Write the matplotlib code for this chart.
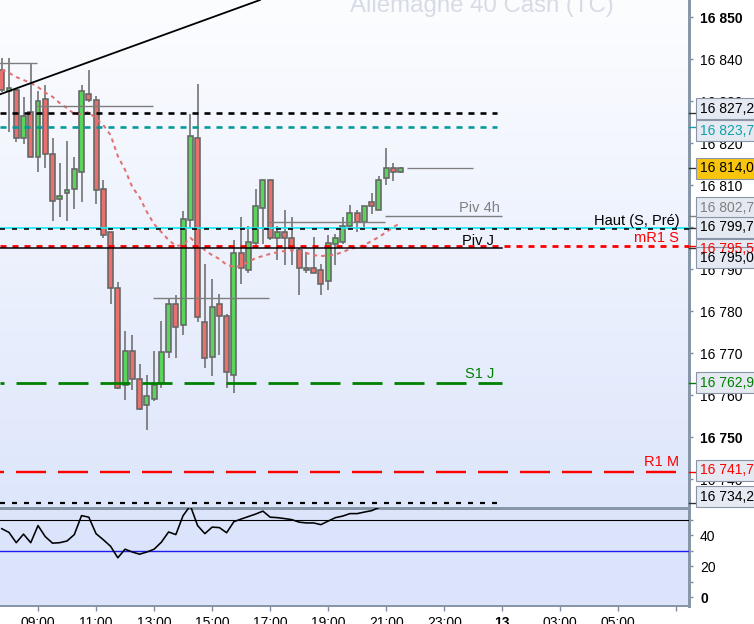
import numpy as np
import matplotlib
matplotlib.use("Agg")
import matplotlib.pyplot as plt
import matplotlib.transforms as mtransforms
from matplotlib.patches import Rectangle
from matplotlib.colors import LinearSegmentedColormap

plt.rcParams['font.family'] = ['Liberation Sans', 'DejaVu Sans']
plt.rcParams['lines.scale_dashes'] = False

# 15 min candles, index 0 = 07:45 (12th), last = 21:30
opens = [16837.4, 16832.5, 16832.6, 16821.1, 16827.3, 16816.6, 16830.4, 16817.5, 16806.6, 16808.0,
         16809.0, 16813.0, 16831.7, 16830.2, 16809.0, 16798.7, 16785.4, 16762.4, 16770.5, 16763.8,
         16757.6, 16759.0, 16762.8, 16770.2, 16781.6, 16776.6, 16801.7, 16821.1, 16777.5, 16769.0,
         16781.6, 16778.7, 16764.8, 16793.7, 16789.8, 16796.1, 16804.6, 16811.1, 16797.3, 16798.9,
         16797.3, 16794.6, 16789.7, 16790.2, 16789.7, 16787.2, 16795.9, 16796.5, 16800.2, 16803.3,
         16801.1, 16806.0, 16804.0, 16811.6, 16814.0, 16813.0]
highs = [16840.2, 16840.2, 16833.0, 16831.0, 16838.7, 16832.4, 16833.8, 16821.1, 16815.2, 16820.5,
         16816.6, 16833.8, 16837.5, 16831.1, 16811.2, 16798.9, 16787.0, 16775.2, 16774.4, 16767.5,
         16764.8, 16770.5, 16777.6, 16783.0, 16783.8, 16803.8, 16826.8, 16834.0, 16791.1, 16787.6,
         16784.0, 16779.4, 16796.8, 16802.5, 16800.2, 16809.0, 16811.3, 16811.3, 16800.2, 16804.0,
         16802.5, 16795.1, 16794.1, 16797.6, 16791.1, 16798.2, 16798.4, 16802.4, 16805.2, 16804.0,
         16805.1, 16808.0, 16812.2, 16818.7, 16815.2, 16814.3]
lows = [16832.2, 16822.7, 16820.2, 16819.7, 16816.6, 16813.0, 16814.0, 16801.5, 16802.3, 16801.5,
        16804.3, 16806.0, 16829.8, 16805.4, 16797.5, 16781.6, 16761.5, 16758.7, 16761.1, 16756.5,
        16751.7, 16758.6, 16761.6, 16768.9, 16768.9, 16774.3, 16799.7, 16777.5, 16766.5, 16764.6,
        16769.5, 16761.6, 16760.4, 16786.5, 16789.0, 16795.7, 16795.9, 16796.9, 16792.2, 16790.9,
        16790.9, 16783.8, 16789.0, 16789.0, 16783.7, 16785.0, 16790.9, 16796.0, 16799.5, 16798.9,
        16800.0, 16803.2, 16804.0, 16810.0, 16810.9, 16812.9]
closes = [16832.6, 16833.0, 16821.1, 16826.5, 16816.6, 16830.1, 16817.3, 16806.2, 16807.5, 16808.7,
          16813.7, 16832.5, 16830.2, 16808.7, 16798.0, 16785.4, 16761.6, 16770.5, 16763.8, 16756.7,
          16759.7, 16762.5, 16770.3, 16781.6, 16776.1, 16801.8, 16821.6, 16778.6, 16768.7, 16781.0,
          16778.7, 16765.4, 16793.7, 16790.2, 16796.5, 16805.1, 16811.1, 16797.3, 16798.9, 16797.3,
          16795.1, 16790.2, 16790.2, 16789.0, 16786.5, 16796.1, 16797.3, 16800.2, 16803.3, 16801.1,
          16805.1, 16805.1, 16811.1, 16814.0, 16813.0, 16814.0]

# moving average (dotted salmon line)
ma = [16837.4, 16836.7, 16835.7, 16835.0, 16834.3, 16833.3, 16832.0, 16831.0, 16829.5, 16828.3,
      16826.9, 16826.9, 16827.4, 16825.7, 16824.3, 16821.9, 16816.9, 16813.6, 16809.5, 16807.1,
      16803.6, 16800.7, 16798.8, 16796.9, 16795.5, 16795.7, 16797.4, 16796.0, 16794.5, 16793.3,
      16792.4, 16791.0, 16790.5, 16790.7, 16791.7, 16792.6, 16793.1, 16793.6, 16794.0, 16794.3,
      16794.5, 16794.3, 16793.8, 16793.3, 16793.1, 16793.2, 16793.5, 16794.0, 16794.8, 16795.2,
      16795.7, 16796.7, 16797.6, 16798.8, 16800.0, 16801.0]

rsi = [44.2, 41.8, 35.2, 40.7, 35.2, 46.2, 39.1, 34.9, 35.2, 36.3,
       40.4, 52.6, 51.6, 41.0, 37.1, 32.9, 25.5, 31.0, 29.2, 27.8,
       29.2, 31.0, 35.5, 42.1, 40.4, 52.6, 59.0, 46.2, 41.0, 45.2,
       44.9, 41.6, 48.7, 50.4, 52.0, 53.6, 55.5, 51.6, 51.3, 50.7,
       50.0, 48.4, 47.9, 47.9, 46.8, 49.1, 51.3, 52.3, 53.9, 53.9,
       54.9, 55.8, 57.8, 60.0, 59.5, 60.0]
rsi_levels = [50, 30]

trend_a = (-0.24, 16831.6)
trend_b = (35.6, 16854.05)

piv4h_edges = [-1, 4.85, 20.85, 36.85, 52.85, 69.0]
piv4h_vals = [16839.0, 16828.8, 16783.0, 16801.1, 16802.7]
last_price = 16814.0
last_line = (55.9, 64.9)

# horizontal levels: price, colour, width(px), dash (offset, on, off px) or None, end index
levels = [
    (16827.2, 'black', 2.6, (0, 6, 6), 68.3),
    (16823.7, '#009a9a', 2.6, (0, 6, 6), 68.3),
    (16799.8, '#1ee8f2', 1.8, None, 95),
    (16799.5, 'black', 1.6, (0, 5, 7), 95),
    (16795.5, '#ff0000', 2.8, (0, 6, 6), 95),
    (16795.0, 'black', 1.5, None, 69.0),
    (16762.9, '#008000', 2.8, (26, 30, 12), 69.0),
    (16741.7, '#ff0000', 2.4, (26, 30, 12), 93.0),
    (16734.2, 'black', 2.2, (0, 5, 7), 68.3),
]

level_texts = [
    ("Piv 4h", 68.7, 16804.5, '#808080'),
    ("Haut (S, Pré)", 93.4, 16801.4, 'black'),
    ("Piv J", 67.9, 16796.7, 'black'),
    ("mR1 S", 93.4, 16797.4, '#ff0000'),
    ("S1 J", 67.9, 16765.0, '#008000'),
    ("R1 M", 93.4, 16744.0, '#ff0000'),
]

# right-hand value boxes: price, text colour, box colour, shift (px)
value_boxes = [
    (16827.2, 'black', '#e4e9f2', -4),
    (16823.7, '#10a0aa', '#e4e9f2', 3.5),
    (16814.0, 'black', '#f8c50c', 0),
    (16802.7, '#808080', '#e4e9f2', -8),
    (16799.7, 'black', '#e4e9f2', -1),
    (16795.5, '#ff0000', '#e4e9f2', 3.5),
    (16795.0, 'black', '#e4e9f2', 9.5),
    (16762.9, '#008000', '#e4e9f2', 0),
    (16741.7, '#ff0000', '#e4e9f2', -1.5),
    (16734.2, 'black', '#e4e9f2', -6.5),
]

tick_idx = [5, 13, 21, 29, 37, 45, 53, 61, 69, 77, 85, 93]
tick_labels = ["09:00", "11:00", "13:00", "15:00", "17:00", "19:00", "21:00", "23:00",
               "13", "03:00", "05:00", ""]

W, H = 754, 624
PX = 0.72  # px -> pt at 100 dpi
fig = plt.figure(figsize=(W / 100, H / 100), dpi=100)
fig.patch.set_facecolor('white')

ax = fig.add_axes([0, 116 / H, 689 / W, 508 / H])
xlim = (-0.24, 94.74)
ylim = (16733.1, 16854.05)

cmap = LinearSegmentedColormap.from_list('bg', ['#dde6fb', '#fcfdff'])
grad = np.linspace(0, 1, 256).reshape(-1, 1)
ax.imshow(grad, extent=[xlim[0], xlim[1], ylim[0], ylim[1]], origin='lower',
          cmap=cmap, aspect='auto', zorder=0)

ax.text(350 / W, 1 - 12 / H, "Allemagne 40 Cash (TC)", transform=fig.transFigure,
        fontsize=17.3, color='#d7dbe5', va='baseline', ha='left', zorder=1)

x = np.arange(len(opens))
o = np.array(opens)
c = np.array(closes)
up = c >= o
body_h = np.maximum(np.abs(c - o), 0.35)
ax.vlines(x, lows, highs, color='#656565', lw=1.5 * PX, zorder=3)
ax.bar(x, body_h, bottom=np.minimum(o, c), width=0.68,
       color=np.where(up, '#5ad45a', '#e8716e'), edgecolor='#656565',
       linewidth=1.6 * PX, zorder=4)

ax.plot(x, ma, color='#e27070', lw=2.0 * PX, dashes=(4 * PX, 4 * PX), zorder=5)

ax.axline(trend_a, trend_b, color='black', lw=1.8 * PX, zorder=6)

ax.hlines(piv4h_vals, piv4h_edges[:-1], piv4h_edges[1:], color='#7d7d7d', lw=1.4 * PX, zorder=6)
ax.hlines(last_price, last_line[0], last_line[1], color='#7d7d7d', lw=1.3 * PX, zorder=6)

for p, col, lw, dash, xend in levels:
    if dash is None:
        ls = '-'
    else:
        ls = (dash[0] * PX, (dash[1] * PX, dash[2] * PX))
    ax.plot([xlim[0], xend], [p, p], color=col, lw=lw * PX, linestyle=ls,
            dash_capstyle='butt', zorder=7)

for txt, xi, yp, col in level_texts:
    ax.text(xi, yp, txt, color=col, fontsize=10.5, ha='right', va='center', zorder=8)

ax.set_xlim(*xlim)
ax.set_ylim(*ylim)
ax.tick_params(axis='x', bottom=False, labelbottom=False)
ax.yaxis.tick_right()
yt = list(range(16740, 16851, 10))
ax.set_yticks(yt)
ax.set_yticklabels([f"{v:,}".replace(",", " ") for v in yt])
for v, lab in zip(yt, ax.get_yticklabels()):
    if v % 50 == 0:
        lab.set_fontweight('bold')
ax.tick_params(axis='y', direction='out', length=3, width=1, color='#7f8f9f',
               pad=5, labelsize=10)
for s in ['top', 'left']:
    ax.spines[s].set_visible(False)
for s in ['right', 'bottom']:
    ax.spines[s].set_color('#8797a7')
    ax.spines[s].set_linewidth(3 * PX)

# coloured marks on the axis at each level
ytr = ax.get_yaxis_transform()
for p, col, face, nudge in value_boxes:
    ax.plot([1.0, 1.009], [p, p], color=col if col != 'black' else '#333333',
            lw=1, transform=ytr, clip_on=False, zorder=9)

blend = mtransforms.blended_transform_factory(fig.transFigure, ax.transData)
for p, col, face, nudge in value_boxes:
    tr = mtransforms.offset_copy(blend, fig=fig, y=-nudge, units='dots')
    fig.add_artist(Rectangle((696 / W, p - 2.5), 80 / W, 5.0, transform=tr,
                             facecolor=face, edgecolor='#8995a6', lw=0.8, zorder=5))
    label = f"{p:,.1f}".replace(",", " ").replace(".", ",")
    fig.text(700 / W, p, label, transform=tr, color=col, fontsize=10,
             va='center', ha='left', zorder=6)

# RSI panel
ax2 = fig.add_axes([0, 18 / H, 689 / W, 98 / H])
ax2.set_facecolor('#dbe4fa')
ax2.plot(x, rsi, color='black', lw=1.6 * PX, zorder=4)
ax2.axhline(rsi_levels[0], color='black', lw=1.1 * PX, zorder=3)
ax2.axhline(rsi_levels[1], color='#1c1cf0', lw=1.4 * PX, zorder=3)
ax2.set_xlim(*xlim)
ax2.set_ylim(-5.5, 57.5)
ax2.yaxis.tick_right()
ax2.set_yticks([0, 20, 40])
ax2.set_yticks([10, 30, 50], minor=True)
ax2.set_yticklabels(["0", "20", "40"])
ax2.get_yticklabels()[0].set_fontweight('bold')
ax2.tick_params(axis='y', which='both', direction='out', length=3, width=1,
                color='#7f8f9f', pad=5, labelsize=10)
ax2.set_xticks(tick_idx)
ax2.set_xticklabels(tick_labels)
ax2.get_xticklabels()[8].set_fontweight('bold')
ax2.tick_params(axis='x', direction='out', length=3.6, width=1, color='#7f8f9f',
                pad=3.5, labelsize=10)
ax2.spines['left'].set_visible(False)
for s in ['right', 'top', 'bottom']:
    ax2.spines[s].set_color('#8797a7')
    ax2.spines[s].set_linewidth(3 * PX if s != 'bottom' else 2 * PX)

fig.savefig("out.png", dpi=100)
